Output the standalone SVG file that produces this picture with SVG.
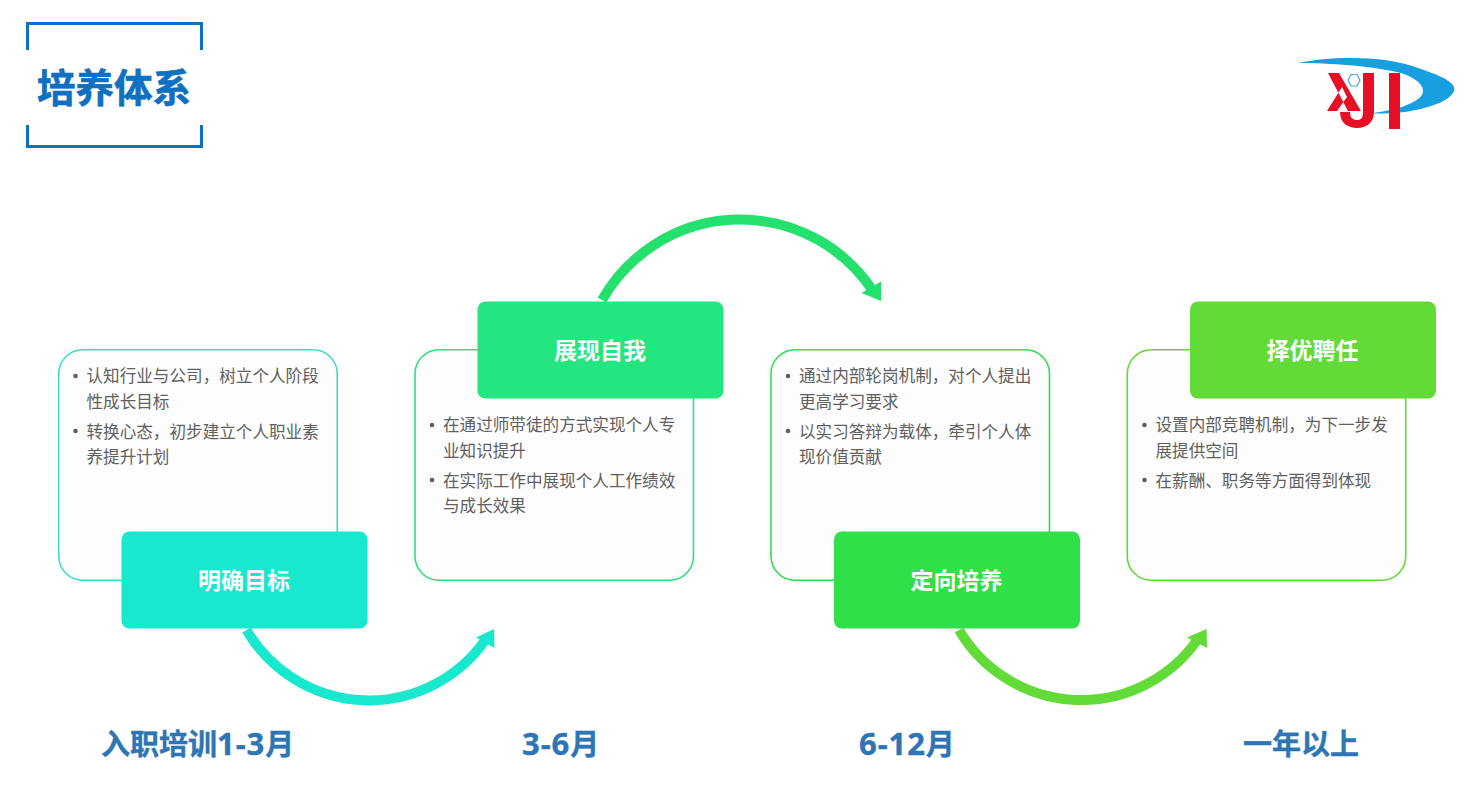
<svg xmlns="http://www.w3.org/2000/svg" width="1483" height="787" viewBox="0 0 1483 787">
<style>
text{font-family:"Noto Sans CJK SC","Open Sans",sans-serif}
.body{font-size:16.6px;fill:#5f5f5f}
.dot{fill:#5f5f5f}
.head{font-size:23px;font-weight:700;fill:#fff;text-anchor:middle}
.when{font-size:29px;font-weight:700;fill:#2e75b6;stroke:#2e75b6;stroke-width:.4}
.num{font-family:"Open Sans","Noto Sans CJK SC",sans-serif;font-size:31px;letter-spacing:.9px}
.card{fill:#fdfdfd;stroke-width:1.6}
.arc{fill:none;stroke-width:10}
.br{fill:none;stroke:#0f6fc0;stroke-width:3}
</style>
<rect width="1483" height="787" fill="#fff"/>
<g id="title">
<path class="br" d="M27.500 50V23.500H201.500V50M27.500 125V146.500H201.500V125"/>
<text x="37" y="102" font-size="38.500" font-weight="700" fill="#0f6fc0" stroke="#0f6fc0" stroke-width=".7">培养体系</text>
</g>
<g id="logo">
<path d="M1298 63C1330 56 1385 55 1418 68C1442 76 1457 83 1454 91C1450 101 1430 108 1405 112C1390 114 1378 113 1367 114C1380 112 1392 110 1402 107C1415 102 1424 97 1423 90C1422 82 1410 75 1397 72C1370 66 1330 63 1298 63Z" fill="#189fe0"/>
<path d="M1328 73H1339L1361 111H1348ZM1327 111H1337L1347 97L1342 87Z" fill="#e60f24"/>
<path d="M1363 73H1374V112C1374 123 1366 128 1357 128C1348 128 1340 123 1340 112H1350C1350 118 1353 120 1357 120C1361 120 1363 118 1363 112Z" fill="#e60f24"/>
<rect x="1389" y="73" width="11" height="56" fill="#e60f24"/>
<path d="M1348 80L1351 74.500H1357L1360 80L1357 86H1351Z" fill="#fff" stroke="#4aa6dc" stroke-width="1.200"/>
</g>
<g id="connectors">
<path class="arc" stroke="#18e8cd" d="M246.500 630A142 142 0 0 0 486 639"/>
<path fill="#18e8cd" d="M494 629L494.500 648L476 637.500Z"/>
<path class="arc" stroke="#24e06c" d="M602 300A159 159 0 0 1 873 291"/>
<path fill="#24e06c" d="M881 301L861.500 293L881 281.500Z"/>
<path class="arc" stroke="#62da38" d="M959 630A142 142 0 0 0 1198 639"/>
<path fill="#62da38" d="M1206.500 629L1207 648L1187 637.500Z"/>
</g>
<g id="node1">
<rect class="card" x="58.750" y="349.750" width="278.500" height="230.500" rx="24" stroke="#3fdccb"/>
<circle class="dot" cx="75.500" cy="376" r="2.300"/><circle class="dot" cx="75.500" cy="431" r="2.300"/>
<text class="body"><tspan x="86.500" y="382">认知行业与公司，树立个人阶段</tspan><tspan x="86.500" y="407.500">性成长目标</tspan><tspan x="86.500" y="437.500">转换心态，初步建立个人职业素</tspan><tspan x="86.500" y="463">养提升计划</tspan></text>
<rect x="121.500" y="531.500" width="246" height="97" rx="8" fill="#18e8cd"/>
<text class="head" x="244" y="589">明确目标</text>
</g>
<g id="node2">
<rect class="card" x="415" y="349.750" width="278.500" height="230.500" rx="24" stroke="#30dd80"/>
<circle class="dot" cx="432" cy="425" r="2.300"/><circle class="dot" cx="432" cy="480" r="2.300"/>
<text class="body"><tspan x="443" y="431">在通过师带徒的方式实现个人专</tspan><tspan x="443" y="456.500">业知识提升</tspan><tspan x="443" y="486.500">在实际工作中展现个人工作绩效</tspan><tspan x="443" y="512">与成长效果</tspan></text>
<rect x="477.500" y="301.500" width="246" height="97" rx="8" fill="#24e680"/>
<text class="head" x="600" y="359">展现自我</text>
</g>
<g id="node3">
<rect class="card" x="771" y="349.750" width="278.500" height="230.500" rx="24" stroke="#30dd50"/>
<circle class="dot" cx="788" cy="376" r="2.300"/><circle class="dot" cx="788" cy="431" r="2.300"/>
<text class="body"><tspan x="799" y="382">通过内部轮岗机制，对个人提出</tspan><tspan x="799" y="407.500">更高学习要求</tspan><tspan x="799" y="437.500">以实习答辩为载体，牵引个人体</tspan><tspan x="799" y="463">现价值贡献</tspan></text>
<rect x="834" y="531.500" width="246" height="97" rx="8" fill="#30e048"/>
<text class="head" x="956.500" y="589">定向培养</text>
</g>
<g id="node4">
<rect class="card" x="1127.250" y="349.750" width="278.500" height="230.500" rx="24" stroke="#62da38"/>
<circle class="dot" cx="1144.500" cy="425" r="2.300"/><circle class="dot" cx="1144.500" cy="480" r="2.300"/>
<text class="body"><tspan x="1155.500" y="431">设置内部竞聘机制，为下一步发</tspan><tspan x="1155.500" y="456.500">展提供空间</tspan><tspan x="1155.500" y="486.500">在薪酬、职务等方面得到体现</tspan></text>
<rect x="1190" y="301.500" width="246" height="97" rx="8" fill="#62da38"/>
<text class="head" x="1312.500" y="359">择优聘任</text>
</g>
<g id="periods">
<text class="when" x="101" y="754.500">入职培训<tspan class="num">1-3</tspan>月</text>
<text class="when" x="522" y="754.500"><tspan class="num">3-6</tspan>月</text>
<text class="when" x="859" y="754.500"><tspan class="num">6-12</tspan>月</text>
<text class="when" x="1243" y="754.500">一年以上</text>
</g>
</svg>
